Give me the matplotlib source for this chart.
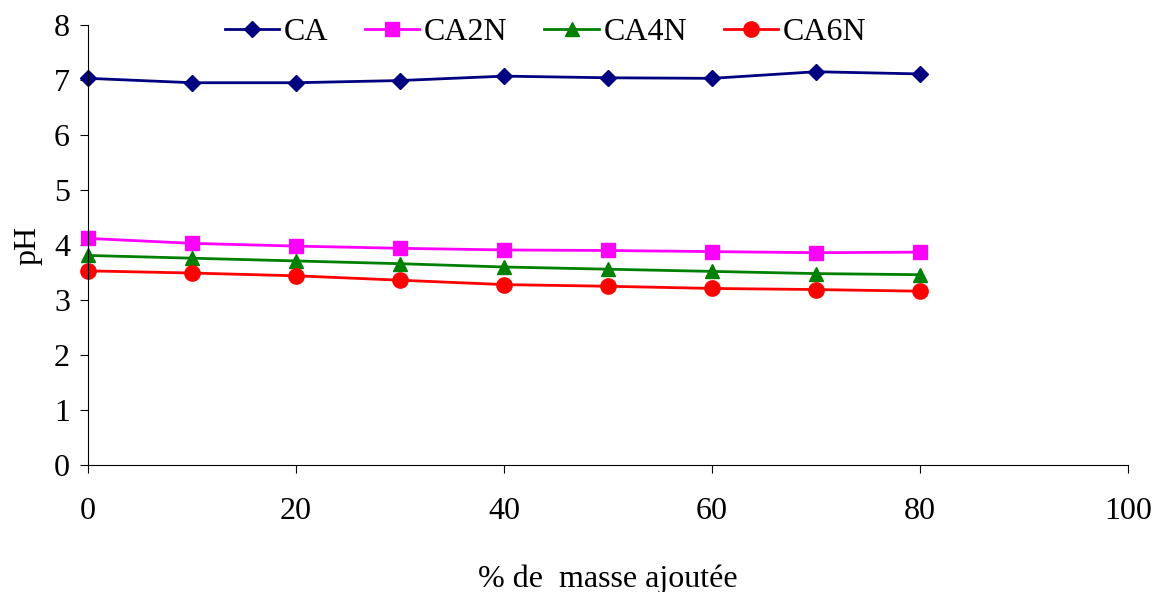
import matplotlib
matplotlib.use("Agg")
import matplotlib.pyplot as plt

# pH vs added mass, one series per sample
masse = [0, 10, 20, 30, 40, 50, 60, 70, 80]
ph_ca = [7.03, 6.95, 6.95, 6.99, 7.07, 7.04, 7.03, 7.15, 7.11]
ph_ca2n = [4.12, 4.03, 3.98, 3.94, 3.91, 3.90, 3.88, 3.86, 3.87]
ph_ca4n = [3.81, 3.76, 3.71, 3.66, 3.60, 3.56, 3.52, 3.48, 3.46]
ph_ca6n = [3.53, 3.49, 3.44, 3.36, 3.28, 3.25, 3.21, 3.19, 3.16]

x_ticks = [0, 20, 40, 60, 80, 100]
y_ticks = [0, 1, 2, 3, 4, 5, 6, 7, 8]

plt.rcParams['font.family'] = ['Liberation Serif', 'DejaVu Serif']

fig = plt.figure(figsize=(11.54, 5.92), dpi=100)
ax = fig.add_axes([0.0763, 0.2145, 0.9012, 0.7433])

ax.plot(masse, ph_ca, color='#000080', marker='D', markersize=8, lw=2, label='CA')
ax.plot(masse, ph_ca2n, color='#FF00FF', marker='s', markersize=10, lw=2, label='CA2N')
ax.plot(masse, ph_ca4n, color='#008000', marker='^', markersize=10, lw=2, label='CA4N')
ax.plot(masse, ph_ca6n, color='#FF0000', marker='o', markersize=11, lw=2, label='CA6N')

ax.set_xlim(0, 100)
ax.set_ylim(0, 8)
ax.set_xticks(x_ticks)
ax.set_yticks(y_ticks)
ax.tick_params(axis='x', labelsize=23, pad=17, length=6, direction='out')
ax.tick_params(axis='y', labelsize=23, pad=7, length=6, direction='out')
for s in ['top', 'right']:
    ax.spines[s].set_visible(False)
for line in ax.lines:
    line.set_clip_on(False)

ax.set_xlabel('% de  masse ajoutée', fontsize=23, labelpad=28)
ax.set_ylabel('pH', fontsize=23, labelpad=8)

ax.legend(loc='center', bbox_to_anchor=(0.44, 0.984), ncol=4, frameon=False,
          fontsize=23, handlelength=1.7, handletextpad=0.15, columnspacing=1.15,
          borderaxespad=0, borderpad=0)

fig.savefig('out.png', dpi=100)
